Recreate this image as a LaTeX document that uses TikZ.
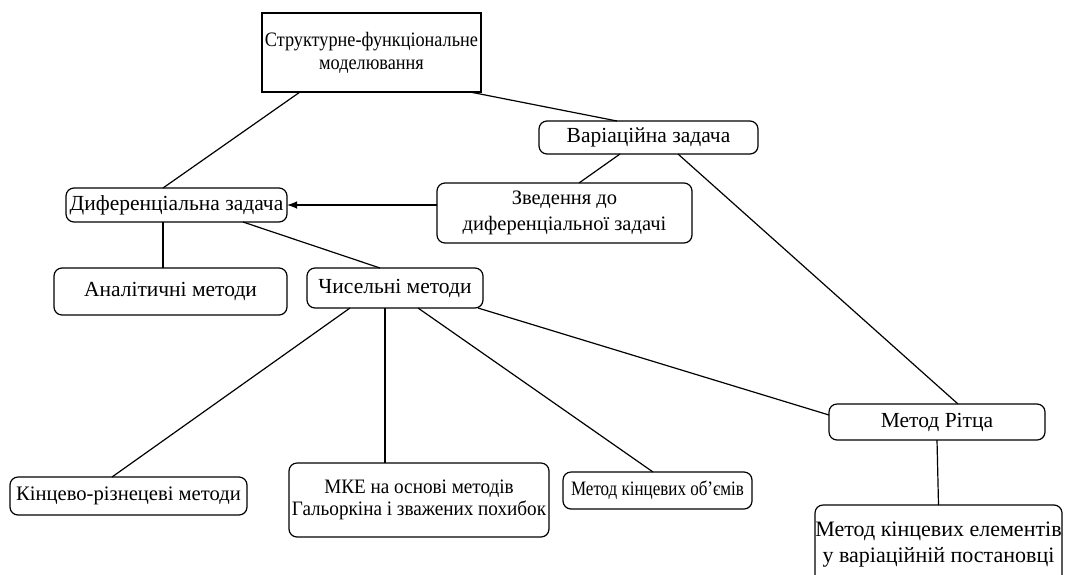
\documentclass[tikz,border=0pt]{standalone}
\usepackage{fontspec}
\setmainfont{Liberation Serif}
\newfontfamily\narrowa[FakeStretch=0.83]{Liberation Serif}
\newfontfamily\narrowb[FakeStretch=0.89]{Liberation Serif}
\newfontfamily\narrowc[FakeStretch=0.935]{Liberation Serif}
\usetikzlibrary{arrows}
\tikzset{blk/.style={draw,rounded corners=8pt,line width=1.2pt,align=center,inner sep=0pt,outer sep=0pt,font=\fontsize{21.5}{24}\selectfont},
fs/.style 2 args={font=\fontsize{#1}{#2}\selectfont}}

\begin{document}
\begin{tikzpicture}[x=1pt,y=-1pt,line width=1.2pt]
\clip (0,0) rectangle (1067,574);
\node[blk,sharp corners,fs={20.5}{23},minimum width=219pt,minimum height=79pt] (sfm) at (371.5,52.5) {\narrowb Структурне-функціональне\\\narrowb моделювання};
\node[blk,minimum width=219pt,minimum height=33pt] (var) at (648.5,137.5) {Варіаційна задача};
\node[blk,minimum width=221pt,minimum height=34pt] (dyf) at (176.5,205) {Диференціальна задача};
\node[blk,fs={20.5}{26},minimum width=255pt,minimum height=60pt] (zved) at (564.5,213) {Зведення до\\диференціальної задачі};
\node[blk,minimum width=233pt,minimum height=47pt] (anal) at (170.5,291.5) {Аналітичні методи};
\node[blk,minimum width=176pt,minimum height=40pt] (chys) at (395,288) {Чисельні методи};
\node[blk,minimum width=216pt,minimum height=36pt] (rit) at (937,422) {Метод Рітца};
\node[blk,fs={20.6}{24},minimum width=237pt,minimum height=38pt] (kin) at (128.5,496) {Кінцево-різнецеві методи};
\node[blk,fs={20.5}{22},minimum width=260pt,minimum height=74pt] (mke) at (419,500) {\narrowc МКЕ на основі методів\\\narrowc Гальоркіна і зважених похибок};
\node[blk,fs={20.5}{22},minimum width=189pt,minimum height=37pt] (obj) at (657.5,490.5) {\narrowa Метод кінцевих об’ємів};
\node[blk,fs={22}{26},minimum width=247pt,minimum height=80pt] (mkev) at (938.5,545) {Метод кінцевих елементів\\у варіаційній постановці};

\draw ([xshift=-71.5pt]sfm.south) -- ([xshift=-13.5pt]dyf.north);
\draw ([xshift=98.5pt]sfm.south) -- ([xshift=-31.5pt]var.north);
\draw ([xshift=-28.5pt]var.south) -- ([xshift=14.5pt]zved.north);
\draw ([xshift=29.5pt]var.south) -- ([xshift=21pt]rit.north);
\draw [-latex,line width=2.4pt] (zved.west |- dyf.east) -- (dyf.east);
\draw ([xshift=-13.5pt]dyf.south) -- ([xshift=-7.5pt]anal.north);
\draw ([xshift=66.5pt]dyf.south) -- ([xshift=-15pt]chys.north);
\draw ([xshift=-45pt]chys.south) -- ([xshift=-16.5pt]kin.north);
\draw ([xshift=-10pt]chys.south) -- ([xshift=-34pt]mke.north);
\draw ([xshift=23pt]chys.south) -- ([xshift=-4.5pt]obj.north);
\draw ([xshift=83pt]chys.south) -- ([yshift=7pt]rit.west);
\draw (rit.south) -- (mkev.north);
\end{tikzpicture}
\end{document}
